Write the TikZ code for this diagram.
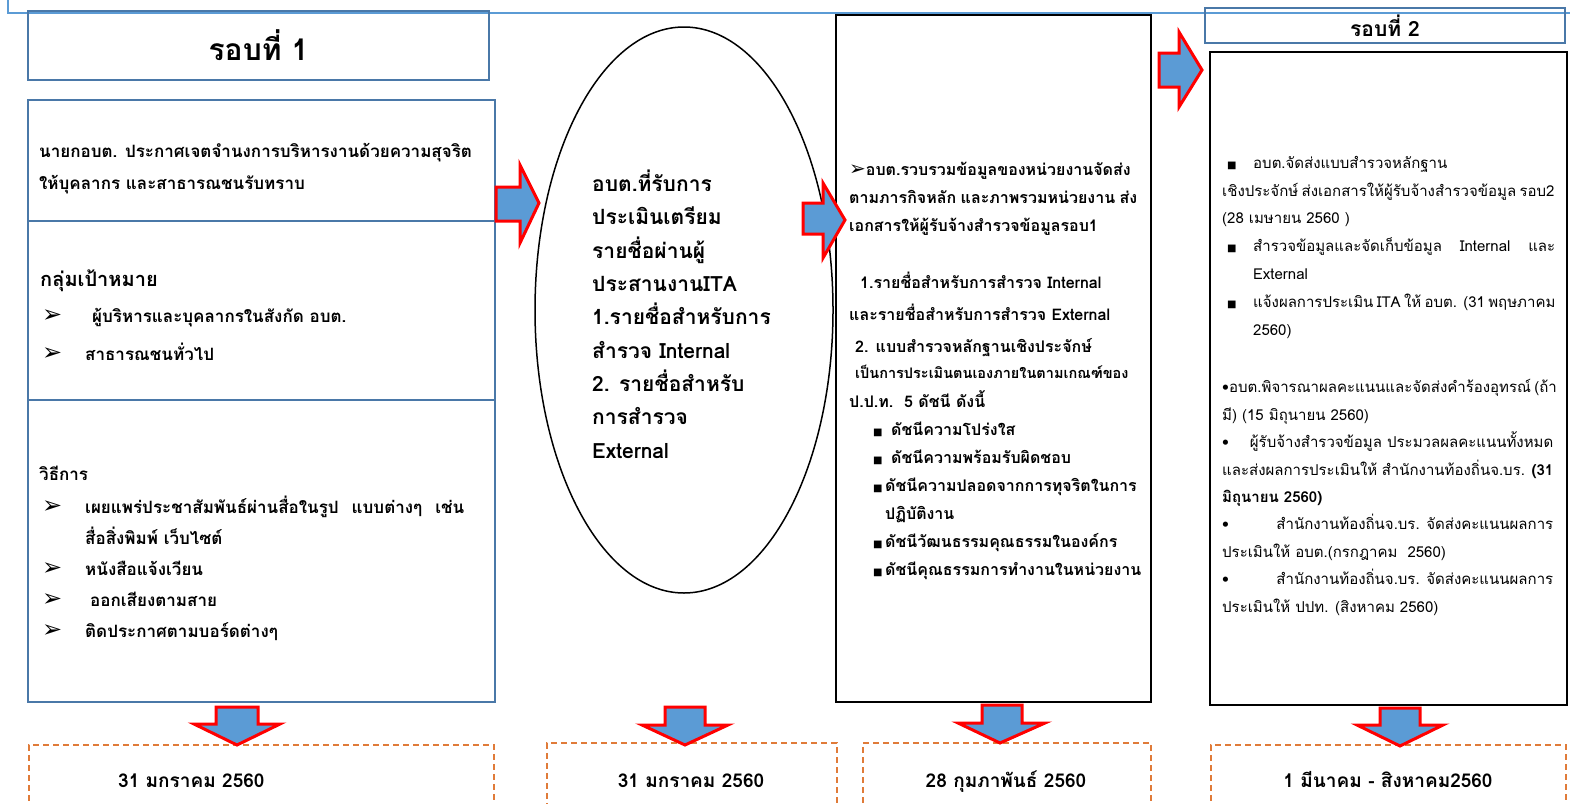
\documentclass[tikz,border=0pt]{standalone}
\usepackage{fontspec}
\setmainfont{Loma}[Script=Thai]
\newfontfamily\dejavu{DejaVu Sans}
\usetikzlibrary{shapes.geometric}
\definecolor{boxblue}{HTML}{4A78A8}
\definecolor{linkblue}{HTML}{5B9BD5}
\definecolor{arrowred}{HTML}{FF0000}
\definecolor{dateorange}{HTML}{E07B39}
\newcommand{\arrowbul}{\makebox[43pt][l]{\dejavu\fontsize{24}{24}\selectfont\char"27A2}}
\newcommand{\arrowsmall}{{\dejavu\fontsize{20}{20}\selectfont\char"27A2}}
\newcommand{\sqbul}{\makebox[12pt][l]{\dejavu\fontsize{10}{10}\selectfont\char"25A0}}
\newcommand{\sqbulR}{\makebox[26pt][l]{\dejavu\fontsize{10}{10}\selectfont\char"25A0}}
\newcommand{\fillline}[2]{\hbox to #1{#2}}
\tikzset{
  bluebox/.style={draw=boxblue,line width=1.5pt,inner sep=0pt,outer sep=0pt,anchor=north west},
  blackbox/.style={draw=black,line width=2.4pt,inner sep=0pt,outer sep=0pt,anchor=north west},
  datebox/.style={draw=dateorange,line width=1.5pt,dash pattern=on 6pt off 4pt,inner sep=0pt,anchor=north west},
  textline/.style={anchor=base west,align=left,inner sep=0pt},
  lefttext/.style={textline,font=\fontsize{17}{31}\selectfont\bfseries},
  midtext/.style={textline,font=\fontsize{16}{28}\selectfont\bfseries},
  righttext/.style={textline,font=\fontsize{15}{27.8}\selectfont},
  datetext/.style={anchor=base,inner sep=0pt,font=\fontsize{19}{22}\selectfont\bfseries},
  blockshape/.style={draw=arrowred,fill=linkblue,line width=3pt,line join=miter},
}
\begin{document}
\begin{tikzpicture}[x=1pt,y=-1pt]
\useasboundingbox (0,0) rectangle (1570,803);
\clip (0,0) rectangle (1570,803);
\draw[linkblue,line width=1.2pt] (8,-5) -- (8,13) -- (1575,13);
% round 1 column
\node[bluebox,minimum width=461pt,minimum height=69pt,font=\fontsize{30}{36}\selectfont\bfseries] (title1) at (28,11) {รอบที่ 1};
\node[bluebox,minimum width=467pt,minimum height=121pt] (intro) at (28,100) {};
\node[bluebox,minimum width=467pt,minimum height=179pt] (target) at (28,221) {};
\node[bluebox,minimum width=467pt,minimum height=302pt] (method) at (28,400) {};
% (base of a multi-line node = its last line)
\node[lefttext,font=\fontsize{17}{32}\selectfont\bfseries] (introtxt) at (39,189) {นายกอบต. ประกาศเจตจำนงการบริหารงานด้วยความสุจริต\\ให้บุคลากร และสาธารณชนรับทราบ};
\node[textline,font=\fontsize{20}{24}\selectfont\bfseries] (targethead) at (40,286) {กลุ่มเป้าหมาย};
\node[lefttext,font=\fontsize{17}{38}\selectfont\bfseries] (targetlist) at (42,360) {\arrowbul\hspace*{7pt}ผู้บริหารและบุคลากรในสังกัด อบต.\\\arrowbul สาธารณชนทั่วไป};
\node[lefttext] (methodhead) at (39,480) {วิธีการ};
\node[lefttext] (methodlist) at (42,637) {\arrowbul\fillline{379pt}{เผยแพร่ประชาสัมพันธ์ผ่านสื่อในรูป\hfil แบบต่างๆ\hfil เช่น}\\\hspace*{43pt}สื่อสิ่งพิมพ์ เว็บไซต์\\\arrowbul หนังสือแจ้งเวียน\\\arrowbul\hspace*{5pt}ออกเสียงตามสาย\\\arrowbul ติดประกาศตามบอร์ดต่างๆ};
% ellipse
\node[draw,ellipse,line width=1.5pt,minimum width=298pt,minimum height=566pt,inner sep=0pt] (prep) at (684,310) {};
\node[textline,font=\fontsize{21}{33.3}\selectfont\bfseries] (preptxt) at (592,458) {อบต.ที่รับการ\\ประเมินเตรียม\\รายชื่อผ่านผู้\\ประสานงานITA\\1.รายชื่อสำหรับการ\\สำรวจ Internal\\2. รายชื่อสำหรับ\\การสำรวจ\\External};
% collect column
\node[blackbox,minimum width=315pt,minimum height=687pt] (collect) at (836,15) {};
\node[midtext] (collecttxt) at (849,231) {\arrowsmall อบต.รวบรวมข้อมูลของหน่วยงานจัดส่ง\\\fillline{288pt}{ตามภารกิจหลัก และภาพรวมหน่วยงาน ส่ง}\\เอกสารให้ผู้รับจ้างสำรวจข้อมูลรอบ1};
\node[midtext,font=\fontsize{16}{32}\selectfont\bfseries] (listtxt) at (849,352) {\hspace*{11pt}1.รายชื่อสำหรับการสำรวจ Internal\\และรายชื่อสำหรับการสำรวจ External\\\hspace*{6pt}2. แบบสำรวจหลักฐานเชิงประจักษ์};
\node[midtext,font=\fontsize{14.5}{29}\selectfont\bfseries] (criteria) at (855,407) {เป็นการประเมินตนเองภายในตามเกณฑ์ของ\\\hspace*{-6pt}{\fontsize{16}{29}\selectfont ป.ป.ท.~~5 ดัชนี ดังนี้}};
\node[midtext] (indexlist) at (873,575) {\sqbul\hspace*{6pt}ดัชนีความโปร่งใส\\\sqbul\hspace*{6pt}ดัชนีความพร้อมรับผิดชอบ\\\sqbul ดัชนีความปลอดจากการทุจริตในการ\\\hspace*{12pt}ปฏิบัติงาน\\\sqbul ดัชนีวัฒนธรรมคุณธรรมในองค์กร\\\sqbul ดัชนีคุณธรรมการทำงานในหน่วยงาน};
% round 2 column
\node[bluebox,minimum width=360pt,minimum height=35pt,font=\fontsize{21}{24}\selectfont\bfseries] (title2) at (1205,8) {รอบที่ 2};
\node[blackbox,minimum width=357pt,minimum height=653pt] (round2) at (1210,52) {};
\node[righttext] (round2a) at (1222,335) {\hspace*{5pt}\sqbulR อบต.จัดส่งแบบสำรวจหลักฐาน\\\fillline{324pt}{เชิงประจักษ์ ส่งเอกสารให้ผู้รับจ้างสำรวจข้อมูล รอบ2}\\(28 เมษายน 2560 )\\\hspace*{5pt}\sqbulR\fillline{302pt}{สำรวจข้อมูลและจัดเก็บข้อมูล Internal และ}\\\hspace*{31pt}External\\\hspace*{5pt}\sqbulR\fillline{302pt}{แจ้งผลการประเมิน ITA ให้ อบต. (31 พฤษภาคม}\\\hspace*{31pt}2560)};
\node[righttext,font=\fontsize{15}{27.4}\selectfont] (round2b) at (1222,612) {\fillline{333pt}{•อบต.พิจารณาผลคะแนนและจัดส่งคำร้องอุทรณ์ (ถ้า}\\มี) (15 มิถุนายน 2560)\\\fillline{331pt}{•\hfill ผู้รับจ้างสำรวจข้อมูล ประมวลผลคะแนนทั้งหมด}\\\fillline{331pt}{และส่งผลการประเมินให้ สำนักงานท้องถิ่นจ.บร. \textbf{(31}}\\\textbf{มิถุนายน 2560)}\\\fillline{331pt}{•\hfill สำนักงานท้องถิ่นจ.บร. จัดส่งคะแนนผลการ}\\ประเมินให้ อบต.(กรกฎาคม~~2560)\\\fillline{331pt}{•\hfill สำนักงานท้องถิ่นจ.บร. จัดส่งคะแนนผลการ}\\ประเมินให้ ปปท. (สิงหาคม 2560)};
% date boxes
\node[datebox,minimum width=465pt,minimum height=80pt] (date1) at (28,744) {};
\node[datebox,minimum width=290pt,minimum height=80pt] (date2) at (546,742) {};
\node[datebox,minimum width=288pt,minimum height=80pt] (date3) at (862,742) {};
\node[datebox,minimum width=355pt,minimum height=80pt] (date4) at (1210,744) {};
\node[datetext,anchor=base west] (date1txt) at (118,787) {31 มกราคม 2560};
\node[datetext] (date2txt) at (691,787) {31 มกราคม 2560};
\node[datetext] (date3txt) at (1006,787) {28 กุมภาพันธ์ 2560};
\node[datetext] (date4txt) at (1388,787) {1 มีนาคม - สิงหาคม2560};
% block arrows
\draw[blockshape] (496,187) -- (520,187) -- (520,165) -- (539,203) -- (520,243) -- (520,221) -- (496,221) -- cycle;
\draw[blockshape] (803,203) -- (823,203) -- (823,183) -- (845,220) -- (823,258) -- (823,234) -- (803,234) -- cycle;
\draw[blockshape] (1159,53) -- (1179,53) -- (1179,32) -- (1202,70) -- (1179,107) -- (1179,87) -- (1159,87) -- cycle;
\draw[blockshape] (216,707) -- (258,707) -- (258,724) -- (280,724) -- (237,745) -- (194,724) -- (216,724) -- cycle;
\draw[blockshape] (665,707) -- (705,707) -- (705,725) -- (728,725) -- (685,745) -- (642,725) -- (665,725) -- cycle;
\draw[blockshape] (982,705) -- (1022,705) -- (1022,723) -- (1045,723) -- (1000,743) -- (958,723) -- (982,723) -- cycle;
\draw[blockshape] (1380,708) -- (1420,708) -- (1420,725) -- (1443,725) -- (1400,746) -- (1357,725) -- (1380,725) -- cycle;
\end{tikzpicture}
\end{document}
